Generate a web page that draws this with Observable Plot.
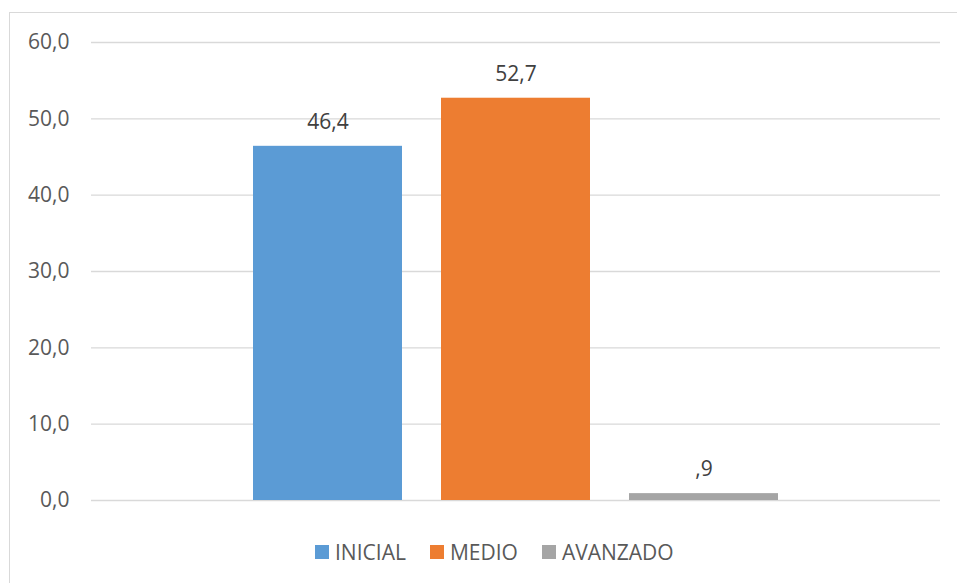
<!DOCTYPE html>
<html>
<head>
<meta charset="utf-8">
<script src="https://cdn.jsdelivr.net/npm/d3@7"></script>
<script src="https://cdn.jsdelivr.net/npm/@observablehq/plot@0.6"></script>
<style>
  html, body { margin: 0; padding: 0; background: #fff; overflow: hidden; }
  #wrap { position: relative; width: 957px; height: 583px; overflow: hidden; font-family: "Open Sans", sans-serif; }
  #frame { position: absolute; left: 9px; top: 12px; width: 1100px; height: 700px; border: 1.5px solid #d9d9d9; box-sizing: border-box; }
  #chart { position: absolute; left: 0; top: 0; }
  #legend { position: absolute; left: 315px; top: 530px; height: 44px; display: flex; align-items: center; font-size: 21px; color: #595959; }
  #legend .item { display: flex; align-items: center; margin-right: 24px; }
  #legend .sw { width: 14px; height: 14px; margin-right: 6px; }
</style>
</head>
<body>
<div id="wrap">
  <div id="frame"></div>
  <div id="chart"></div>
  <div id="legend"></div>
</div>
<script>
const categories = ["INICIAL", "MEDIO", "AVANZADO"];
const values = [46.4, 52.7, 0.9];
const colors = ["#5B9BD5", "#ED7D31", "#A5A5A5"];
const yTicks = [0, 10, 20, 30, 40, 50, 60];

const data = categories.map((c, i) => ({ cat: c, value: values[i] }));
const fmtTick = d => d.toFixed(1).replace(".", ",");
const fmtLabel = d => { let s = d.toFixed(1).replace(".", ","); return s.startsWith("0,") ? s.slice(1) : s; };

const plot = Plot.plot({
  width: 957,
  height: 530,
  marginLeft: 91,
  marginRight: 17,
  marginTop: 42,
  marginBottom: 30,
  style: { fontFamily: "Open Sans, sans-serif", fontSize: "21px", color: "#595959", background: "transparent" },
  x: { domain: categories, paddingInner: 0.21, paddingOuter: 0.857, axis: null },
  y: { domain: [0, 60], ticks: yTicks, tickFormat: fmtTick, label: null },
  color: { domain: categories, range: colors },
  marks: [
    Plot.gridY(yTicks, { stroke: "#d9d9d9", strokeOpacity: 1, strokeWidth: 1.3 }),
    Plot.axisY(yTicks, { tickSize: 0, tickPadding: 22, tickFormat: fmtTick, label: null, fill: "#595959", fontSize: 21 }),
    Plot.barY(data, { x: "cat", y: "value", fill: "cat" }),
    Plot.text(data, { x: "cat", y: "value", text: d => fmtLabel(d.value), dy: -24, fill: "#404040", fontSize: 21, lineAnchor: "middle" })
  ]
});
document.getElementById("chart").appendChild(plot);

const legend = document.getElementById("legend");
categories.forEach((c, i) => {
  const item = document.createElement("div");
  item.className = "item";
  const sw = document.createElement("div");
  sw.className = "sw";
  sw.style.background = colors[i];
  const t = document.createElement("span");
  t.textContent = c;
  item.appendChild(sw);
  item.appendChild(t);
  legend.appendChild(item);
});
</script>
</body>
</html>
